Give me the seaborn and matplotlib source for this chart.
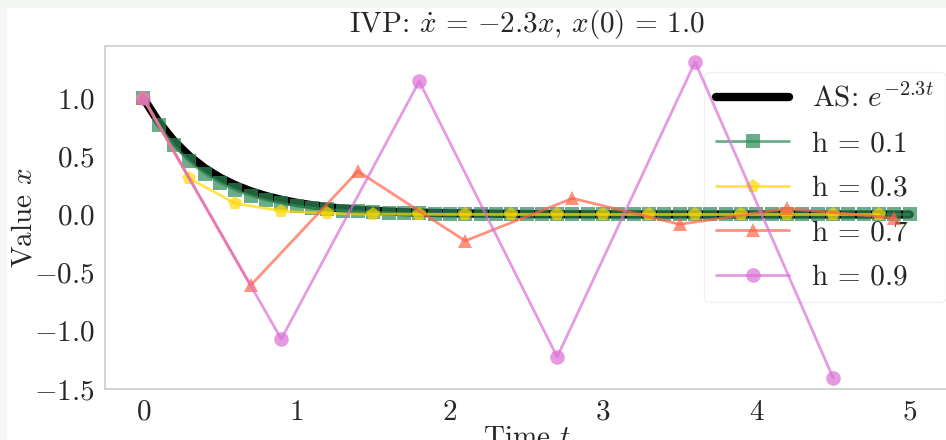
import matplotlib
matplotlib.use("Agg")
import matplotlib.pyplot as plt
import seaborn as sns
import numpy as np
from matplotlib.patches import Rectangle

# ---- data ----
t_exact = [0.0, 0.1, 0.2, 0.3, 0.4, 0.5, 0.6, 0.7, 0.8, 0.9, 1.0, 1.1, 1.2, 1.3, 1.4,
           1.5, 1.6, 1.7, 1.8, 1.9, 2.0, 2.5, 3.0, 3.5, 4.0, 4.5, 5.0]
x_exact = [1.0, 0.7945, 0.6313, 0.5016, 0.3985, 0.3166, 0.2516, 0.1999, 0.1588, 0.1262,
           0.1003, 0.0797, 0.0633, 0.0503, 0.0400, 0.0317, 0.0252, 0.0200, 0.0159, 0.0127,
           0.0101, 0.0032, 0.0010, 0.0003, 0.0001, 0.0000, 0.0000]

t_h01 = [round(0.1 * i, 1) for i in range(51)]
x_h01 = [1.0, 0.77, 0.5929, 0.4565, 0.3515, 0.2707, 0.2084, 0.1605, 0.1236, 0.0952,
         0.0733, 0.0564, 0.0434, 0.0334, 0.0258, 0.0198, 0.0153, 0.0118, 0.0090, 0.0070,
         0.0054, 0.0041, 0.0032, 0.0025, 0.0019, 0.0015, 0.0011, 0.0009, 0.0007, 0.0005,
         0.0004, 0.0003, 0.0002, 0.0002, 0.0001, 0.0001, 0.0001, 0.0001, 0.0, 0.0,
         0.0, 0.0, 0.0, 0.0, 0.0, 0.0, 0.0, 0.0, 0.0, 0.0, 0.0]

t_h03 = [0.0, 0.3, 0.6, 0.9, 1.2, 1.5, 1.8, 2.1, 2.4, 2.7, 3.0, 3.3, 3.6, 3.9, 4.2, 4.5, 4.8]
x_h03 = [1.0, 0.31, 0.0961, 0.0298, 0.0092, 0.0029, 0.0009, 0.0003, 0.0001, 0.0, 0.0,
         0.0, 0.0, 0.0, 0.0, 0.0, 0.0]

t_h07 = [0.0, 0.7, 1.4, 2.1, 2.8, 3.5, 4.2, 4.9]
x_h07 = [1.0, -0.61, 0.3721, -0.2270, 0.1385, -0.0845, 0.0515, -0.0314]

t_h09 = [0.0, 0.9, 1.8, 2.7, 3.6, 4.5]
x_h09 = [1.0, -1.07, 1.1449, -1.2250, 1.3108, -1.4026]

x_ticks = [0, 1, 2, 3, 4, 5]
y_ticks = [-1.5, -1.0, -0.5, 0.0, 0.5, 1.0]

# ---- style ----
sns.set_style("white")
plt.rcParams["font.family"] = ["cmr10", "DejaVu Serif"]
plt.rcParams["mathtext.fontset"] = "cm"
plt.rcParams["axes.formatter.use_mathtext"] = True
plt.rcParams["axes.unicode_minus"] = True

FS = 21

fig = plt.figure(figsize=(9.46, 4.40), dpi=100, facecolor="#f4f6f1")
fig.patches.append(Rectangle((7 / 946, 0), 1, 1 - 8 / 440, transform=fig.transFigure,
                             facecolor="white", edgecolor="none", zorder=-10))
ax = fig.add_axes([105 / 946, 1 - 389 / 440, (948 - 105) / 946, (389 - 46) / 440])
ax.set_facecolor("white")

sns.lineplot(x=t_exact, y=x_exact, ax=ax, color="black", linewidth=6,
             label=r"AS: $e^{-2.3t}$")
sns.lineplot(x=t_h01, y=x_h01, ax=ax, color="seagreen", linewidth=2, marker="s",
             markersize=10.5, markeredgewidth=0, alpha=0.7, label="h = 0.1")
sns.lineplot(x=t_h03, y=x_h03, ax=ax, color="gold", linewidth=2, marker="p",
             markersize=10.5, markeredgewidth=0, alpha=0.7, label="h = 0.3")
sns.lineplot(x=t_h07, y=x_h07, ax=ax, color="tomato", linewidth=2, marker="^",
             markersize=10.5, markeredgewidth=0, alpha=0.7, label="h = 0.7")
sns.lineplot(x=t_h09, y=x_h09, ax=ax, color="orchid", linewidth=2, marker="o",
             markersize=10.5, markeredgewidth=0, alpha=0.7, label="h = 0.9")

ax.set_xlim(-0.25, 5.25)
ax.set_ylim(-1.5, 1.448)
ax.set_xticks(x_ticks)
ax.set_yticks(y_ticks)
ax.tick_params(labelsize=FS, length=4, color="#cccccc", width=1)
for s in ax.spines.values():
    s.set_color("#cccccc")
    s.set_linewidth(1.2)

ax.set_title(r"IVP: $\dot{x}\,=\,{-}2.3x$, $x(0)\,=\,1.0$", fontsize=FS, pad=10)
ax.set_xlabel(r"Time $t$", fontsize=FS, labelpad=0)
ax.set_ylabel(r"Value $x$", fontsize=FS)
ax.yaxis.set_label_coords(-0.08, 0.5)

leg = ax.legend(loc="upper right", fontsize=FS, handlelength=2.5, frameon=True,
                fancybox=True, framealpha=0.8, edgecolor="#eeeeee",
                bbox_to_anchor=(1.008, 0.95), borderaxespad=0.3, labelspacing=0.62,
                handletextpad=0.8)
leg.set_zorder(1.5)

fig.savefig("out.png", dpi=100, facecolor=fig.get_facecolor())
